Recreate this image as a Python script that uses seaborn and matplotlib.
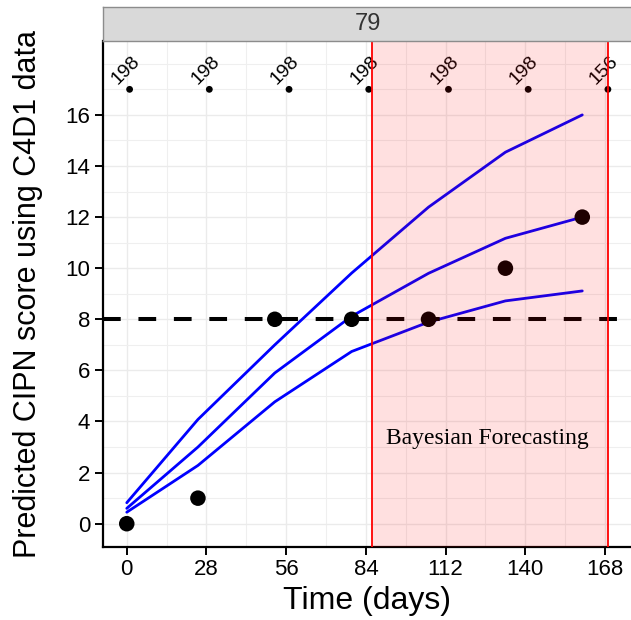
import numpy as np
import pandas as pd
import matplotlib
matplotlib.use("Agg")
import matplotlib.pyplot as plt
from matplotlib.ticker import MultipleLocator
import seaborn as sns

sns.set_theme(style="white")
plt.rcParams["font.family"] = ["Liberation Sans", "DejaVu Sans"]

# Observed CIPN scores
obs_days = [0, 25, 52, 79, 106, 133, 160]
obs_score = [0, 1, 8, 8, 8, 10, 12]

# Predicted trajectories (lower, median, upper)
pred_days = [0, 25, 52, 79, 106, 133, 160]
pred_lower = [0.45, 2.28, 4.77, 6.74, 7.89, 8.72, 9.11]
pred_median = [0.6, 3.0, 5.9, 8.12, 9.80, 11.17, 12.0]
pred_upper = [0.82, 4.08, 7.0, 9.81, 12.39, 14.54, 16.0]

# Number of patients at each cycle start
n_days = [1, 29, 57, 85, 113, 141, 169]
n_labels = ["198", "198", "198", "198", "198", "198", "156"]

threshold = 8
forecast_start, forecast_end = 86, 169
panel_title = "79"

x_ticks = [0, 28, 56, 84, 112, 140, 168]
y_ticks = [0, 2, 4, 6, 8, 10, 12, 14, 16]

pred_df = pd.DataFrame({
    "day": pred_days * 3,
    "score": pred_lower + pred_median + pred_upper,
    "band": ["lower"] * len(pred_days) + ["median"] * len(pred_days) + ["upper"] * len(pred_days),
})
obs_df = pd.DataFrame({"day": obs_days, "score": obs_score})
n_df = pd.DataFrame({"day": n_days, "y": [17.0] * len(n_days), "label": n_labels})

W, H = 631, 620
fig = plt.figure(figsize=(W / 100, H / 100), dpi=100)

px_per_day = 2.847
left_px, bottom_px, top_px = 102.7, 546.7, 41.3
xmin, xmax = -8.45, 177.45
ax = fig.add_axes([left_px / W, (H - bottom_px) / H,
                   (xmax - xmin) * px_per_day / W, (bottom_px - top_px) / H])
ax.set_xlim(xmin, xmax)
ax.set_ylim(-0.9, 18.88)

# grid
ax.set_xticks(x_ticks)
ax.set_yticks(y_ticks)
ax.xaxis.set_minor_locator(MultipleLocator(14))
ax.yaxis.set_minor_locator(MultipleLocator(1))
ax.grid(True, which="major", color="#EBEBEB", linewidth=1.0, zorder=0)
ax.grid(True, which="minor", color="#EFEFEF", linewidth=0.8, zorder=0)
ax.set_axisbelow(True)

sns.lineplot(data=pred_df, x="day", y="score", units="band", estimator=None,
             color="#0000FF", linewidth=2.0, ax=ax, zorder=3)
sns.scatterplot(data=obs_df, x="day", y="score", color="black", s=125,
                edgecolor="none", ax=ax, zorder=4)
sns.scatterplot(data=n_df, x="day", y="y", color="black", s=24,
                edgecolor="none", ax=ax, zorder=4)
for d, lab in zip(n_days, n_labels):
    ax.text(d - 1.4, 17.75, lab, rotation=45, rotation_mode="anchor",
            ha="center", va="center", fontsize=14, color="black", zorder=4)

ax.axhline(threshold, color="black", linewidth=2.9, linestyle=(0, (4.4, 4.4)), zorder=4)

ax.axvspan(forecast_start, forecast_end, color="#FF0000", alpha=0.12, lw=0, zorder=5)
ax.axvline(forecast_start, color="#FF0000", linewidth=1.3, zorder=6)
ax.axvline(forecast_end, color="#FF0000", linewidth=1.3, zorder=6)

ax.text(126.6, 3.12, "Bayesian Forecasting", family=["Liberation Serif", "DejaVu Serif"],
        fontsize=17, ha="center", va="baseline", color="black", zorder=6)

for s in ["top", "right"]:
    ax.spines[s].set_visible(False)
for s in ["left", "bottom"]:
    ax.spines[s].set_color("black")
    ax.spines[s].set_linewidth(1.6)
ax.tick_params(axis="both", which="major", direction="out", length=5.5, width=1.4,
               color="black", labelsize=16, labelcolor="black", pad=3.6,
               left=True, bottom=True)
ax.tick_params(axis="both", which="minor", length=0)

ax.set_xlabel("Time (days)", fontsize=23, color="black", labelpad=4)
ax.set_ylabel("Predicted CIPN score using C4D1 data", fontsize=22, color="black", labelpad=16)

# facet strip
strip_top = 7.4
sax = fig.add_axes([left_px / W, (H - top_px) / H, (W - left_px + 2) / W, (top_px - strip_top) / H])
sax.set_facecolor("#D9D9D9")
sax.set_xticks([])
sax.set_yticks([])
for s in sax.spines.values():
    s.set_color("#8C8C8C")
    s.set_linewidth(1.0)
sax.text(0.5, 0.5, panel_title, ha="center", va="center", fontsize=17, color="#333333",
         transform=sax.transAxes)

fig.savefig("out.png", dpi=100)
